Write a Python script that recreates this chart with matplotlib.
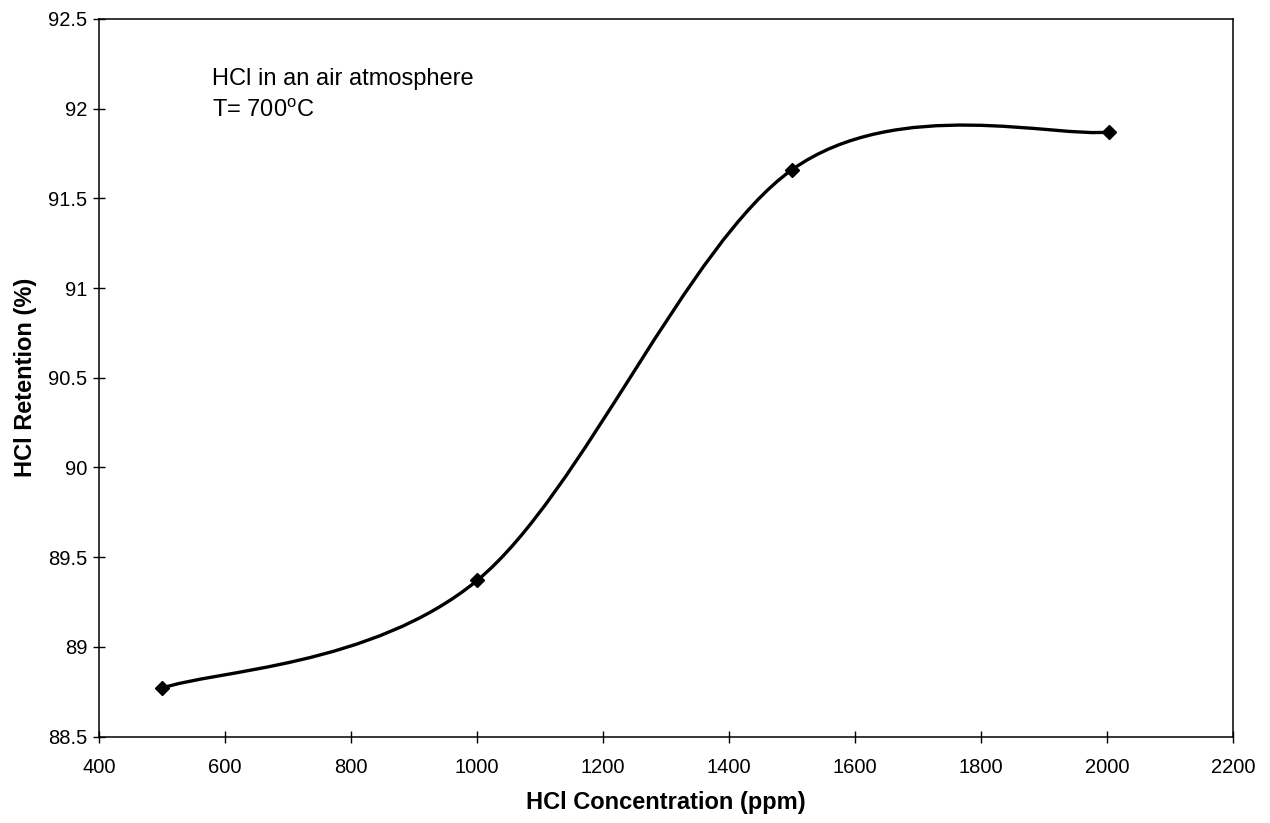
import numpy as np
import matplotlib
matplotlib.use("Agg")
from matplotlib import pyplot as plt
from matplotlib.path import Path
from matplotlib.patches import PathPatch

plt.rcParams['font.family'] = ['Liberation Sans', 'DejaVu Sans']
plt.rcParams['mathtext.fontset'] = 'custom'
plt.rcParams['mathtext.rm'] = 'Liberation Sans'

# data
conc = [500, 1000, 1500, 2003]
retention = [88.77, 89.37, 91.66, 91.87]
x_ticks = [400, 600, 800, 1000, 1200, 1400, 1600, 1800, 2000, 2200]
y_ticks = [88.5, 89, 89.5, 90, 90.5, 91, 91.5, 92, 92.5]


# Excel style smoothed line: cubic bezier between the points
def smooth_path(xs, ys):
    p = np.column_stack([xs, ys]).astype(float)
    n = len(p)
    verts = [p[0]]
    codes = [Path.MOVETO]
    for i in range(n - 1):
        prev = p[max(i - 1, 0)]
        nxt = p[min(i + 2, n - 1)]
        c1 = p[i] + (p[i + 1] - prev) / 6.0
        c2 = p[i + 1] - (nxt - p[i]) / 6.0
        verts += [c1, c2, p[i + 1]]
        codes += [Path.CURVE4] * 3
    return Path(verts, codes)


def main():
    fig = plt.figure(figsize=(12.7, 8.23), dpi=100)
    ax = fig.add_axes([0.078, 0.105, 0.893, 0.872])

    ax.add_patch(PathPatch(smooth_path(conc, retention), fill=False,
                           lw=2.4, color='black', capstyle='round'))
    ax.plot(conc, retention, linestyle='none', marker='D', markersize=7,
            color='black')

    ax.set_xlim(400, 2200)
    ax.set_ylim(88.5, 92.5)
    ax.set_xticks(x_ticks)
    ax.set_yticks(y_ticks)
    ax.set_yticklabels(['88.5', '89', '89.5', '90', '90.5', '91', '91.5',
                        '92', '92.5'])
    ax.tick_params(direction='inout', length=9, width=1, labelsize=14.5)
    ax.tick_params(axis='x', pad=11)
    ax.tick_params(axis='y', pad=4)
    for s in ax.spines.values():
        s.set_linewidth(1.1)

    ax.set_xlabel('HCl Concentration (ppm)', fontsize=17, fontweight='bold',
                  labelpad=10)
    ax.set_ylabel('HCl Retention (%)', fontsize=17, fontweight='bold',
                  labelpad=8)

    ax.text(0.1, 0.908, 'HCl in an air atmosphere', transform=ax.transAxes,
            fontsize=17, va='baseline')
    ax.text(0.1, 0.863, r'T= 700$^{\mathrm{o}}$C', transform=ax.transAxes,
            fontsize=17, va='baseline')

    fig.savefig('out.png', dpi=100)


if __name__ == "__main__":
    main()
